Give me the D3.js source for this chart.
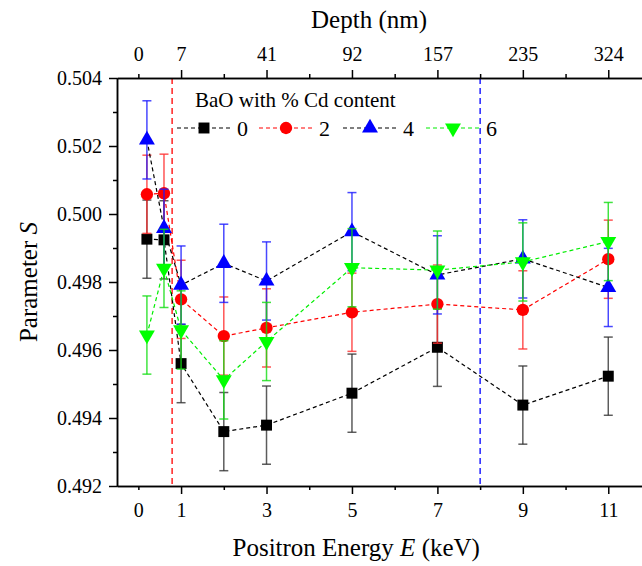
<!DOCTYPE html>
<html>
<head>
<meta charset="utf-8">
<script src="https://cdn.jsdelivr.net/npm/d3@7"></script>
<style>
  body { margin: 0; background: #fff; }
  svg text { font-family: "Liberation Serif", "DejaVu Serif", "Times New Roman", Times, serif; }
</style>
</head>
<body>
<svg id="chart" width="642" height="566"></svg>
<script>
// positron energies (keV) and S parameter per Cd content
var energy = [0.2, 0.6, 1, 2, 3, 5, 7, 9, 11];
var s0 = [0.49926, 0.49924, 0.49560, 0.49360, 0.49379, 0.49473, 0.49608, 0.49438, 0.49523];
var s2 = [0.50058, 0.50061, 0.49749, 0.49641, 0.49665, 0.49711, 0.49735, 0.49718, 0.49867];
var s4 = [0.50218, 0.49958, 0.49791, 0.49855, 0.49803, 0.49948, 0.49821, 0.49868, 0.49784];
var s6 = [0.49644, 0.49840, 0.49659, 0.49512, 0.49625, 0.49842, 0.49835, 0.49859, 0.49919];
var e0 = [0.00115, 0.00115, 0.00115, 0.00115, 0.00115, 0.00115, 0.00115, 0.00115, 0.00115];
var e2 = [0.00115, 0.00115, 0.00115, 0.00115, 0.00115, 0.00115, 0.00115, 0.00115, 0.00115];
var e4 = [0.00115, 0.00115, 0.00115, 0.00115, 0.00115, 0.00115, 0.00115, 0.00115, 0.00115];
var e6 = [0.00115, 0.00115, 0.00115, 0.00115, 0.00115, 0.00115, 0.00115, 0.00115, 0.00115];
var contents = ["0", "2", "4", "6"];

var bottomTicks = [0, 1, 3, 5, 7, 9, 11];
var depthLabels = ["0", "7", "41", "92", "157", "235", "324"];
var yTicks = [0.492, 0.494, 0.496, 0.498, 0.500, 0.502, 0.504];
var refLines = [0.79, 8.0];

var FONT = "Liberation Serif, DejaVu Serif, serif";
var margin = {top: 78, left: 117};
var gwidth = 534, gheight = 408;

var svg = d3.select("#chart");
var g = svg.append("g").attr("transform", "translate(" + margin.left + "," + margin.top + ")");

var x = d3.scaleLinear().domain([-0.5, 12]).range([0, gwidth]);
var y = d3.scaleLinear().domain([0.492, 0.504]).range([gheight, 0]);

var series = [
  {name: contents[0], vals: s0, errs: e0, color: "#000", line: "#000", bar: "#333", shape: d3.symbolSquare, size: 120, rot: 0},
  {name: contents[1], vals: s2, errs: e2, color: "#ff0000", line: "#ff0000", bar: "#ff2a2a", shape: d3.symbolCircle, size: 120, rot: 0},
  {name: contents[2], vals: s4, errs: e4, color: "#0000ff", line: "#000", bar: "#1a1aff", shape: d3.symbolTriangle, size: 110, rot: 0},
  {name: contents[3], vals: s6, errs: e6, color: "#00ff00", line: "#00ee00", bar: "#11dd11", shape: d3.symbolTriangle, size: 110, rot: 180}
];

// reference lines
refLines.forEach(function(v, i){
  g.append("line")
    .attr("x1", x(v)).attr("x2", x(v))
    .attr("y1", 0).attr("y2", gheight)
    .attr("stroke", i == 0 ? "#ff0000" : "#0000ff")
    .attr("stroke-width", 1.3)
    .attr("stroke-dasharray", "6,4");
});

// axes
function styleTicks(sel){
  sel.attr("font-family", FONT);
  sel.selectAll(".tick line")
    .attr("stroke", "#000")
    .attr("stroke-width", 1.5);
  sel.selectAll(".tick text")
    .attr("font-size", 20)
    .attr("fill", "#000")
    .style("font-family", FONT);
  sel.select(".domain").attr("stroke", "#000").attr("stroke-width", 1.5);
}

var xBottom = d3.axisBottom(x).tickValues(bottomTicks).tickSize(8).tickSizeOuter(0).tickPadding(9)
  .tickFormat(d3.format("d"));
var gb = g.append("g").attr("transform", "translate(0," + gheight + ")").call(xBottom);
styleTicks(gb);
gb.selectAll(".tick line").attr("y2", function(d){ return d == 0 ? 4 : 8; });
g.append("g").attr("transform", "translate(0," + gheight + ")")
  .call(d3.axisBottom(x).tickValues([2, 4, 6, 8, 10]).tickSize(4).tickSizeOuter(0).tickFormat(""))
  .call(styleTicks);

var xTop = d3.axisTop(x).tickValues(bottomTicks).tickSize(8).tickSizeOuter(0).tickPadding(9)
  .tickFormat(function(d, i){ return depthLabels[i]; });
var gt = g.append("g").call(xTop);
styleTicks(gt);
gt.selectAll(".tick line").attr("y2", function(d){ return d == 0 ? -4 : -8; });
g.append("g")
  .call(d3.axisTop(x).tickValues([2, 4, 6, 8, 10]).tickSize(4).tickSizeOuter(0).tickFormat(""))
  .call(styleTicks);

var yAxis = d3.axisLeft(y).tickValues(yTicks).tickSize(8).tickSizeOuter(0).tickPadding(7)
  .tickFormat(d3.format(".3f"));
g.append("g").call(yAxis).call(styleTicks);
g.append("g")
  .call(d3.axisLeft(y).tickValues([0.493, 0.495, 0.497, 0.499, 0.501, 0.503]).tickSize(4).tickSizeOuter(0).tickFormat(""))
  .call(styleTicks);

// axis titles
var xt = svg.append("text")
  .attr("x", margin.left + x(5.1)).attr("y", 556)
  .attr("text-anchor", "middle").attr("font-size", 25).style("font-family", FONT);
xt.append("tspan").text("Positron Energy ");
xt.append("tspan").attr("font-style", "italic").text("E");
xt.append("tspan").text(" (keV)");

svg.append("text")
  .attr("x", margin.left + x(5.4)).attr("y", 28)
  .attr("text-anchor", "middle").attr("font-size", 25).style("font-family", FONT)
  .text("Depth (nm)");

var yt = svg.append("text")
  .attr("transform", "translate(37," + (margin.top + gheight / 2) + ") rotate(-90)")
  .attr("text-anchor", "middle").attr("font-size", 25).style("font-family", FONT);
yt.append("tspan").text("Parameter ");
yt.append("tspan").attr("font-style", "italic").text("S");

// data
var line = d3.line()
  .x(function(d){ return x(d[0]); })
  .y(function(d){ return y(d[1]); });

series.forEach(function(s){
  var pts = energy.map(function(e, i){ return [e, s.vals[i], s.errs[i]]; });
  var sg = g.append("g");

  sg.append("path").datum(pts)
    .attr("fill", "none")
    .attr("stroke", s.line)
    .attr("stroke-width", 1.2)
    .attr("stroke-dasharray", "4,3")
    .attr("d", line);

  var eb = sg.selectAll(".err").data(pts).enter().append("g")
    .attr("stroke", s.bar).attr("stroke-width", 1.5).attr("stroke-opacity", 0.8);
  eb.append("line")
    .attr("x1", function(d){ return x(d[0]); }).attr("x2", function(d){ return x(d[0]); })
    .attr("y1", function(d){ return y(d[1] - d[2]); }).attr("y2", function(d){ return y(d[1] + d[2]); });
  eb.append("line")
    .attr("x1", function(d){ return x(d[0]) - 4.5; }).attr("x2", function(d){ return x(d[0]) + 4.5; })
    .attr("y1", function(d){ return y(d[1] + d[2]); }).attr("y2", function(d){ return y(d[1] + d[2]); });
  eb.append("line")
    .attr("x1", function(d){ return x(d[0]) - 4.5; }).attr("x2", function(d){ return x(d[0]) + 4.5; })
    .attr("y1", function(d){ return y(d[1] - d[2]); }).attr("y2", function(d){ return y(d[1] - d[2]); });

  sg.selectAll(".pt").data(pts).enter().append("path")
    .attr("d", d3.symbol().type(s.shape).size(s.size))
    .attr("fill", s.color)
    .attr("transform", function(d){
      return "translate(" + x(d[0]) + "," + y(d[1]) + ") rotate(" + s.rot + ")";
    });
});

// legend
var lg = svg.append("g");
lg.append("text").attr("x", 195).attr("y", 107).attr("font-size", 21).style("font-family", FONT)
  .text("BaO with % Cd content");
var legX = [177, 259, 343, 426];
series.forEach(function(s, i){
  var lx = legX[i], ly = 128;
  lg.append("line")
    .attr("x1", lx).attr("x2", lx + 53).attr("y1", ly).attr("y2", ly)
    .attr("stroke", s.line).attr("stroke-width", 1.2).attr("stroke-dasharray", "4,3");
  lg.append("path")
    .attr("d", d3.symbol().type(s.shape).size(s.size))
    .attr("fill", s.color)
    .attr("transform", "translate(" + (lx + 27) + "," + ly + ") rotate(" + s.rot + ")");
  lg.append("text").attr("x", lx + 60).attr("y", ly + 8).attr("font-size", 22).style("font-family", FONT)
    .text(s.name);
});
</script>
</body>
</html>
